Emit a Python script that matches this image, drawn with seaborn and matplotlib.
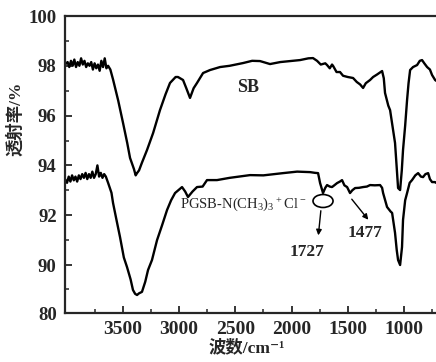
import numpy as np
import pandas as pd
import matplotlib
matplotlib.use("Agg")
import matplotlib.pyplot as plt
from matplotlib.patches import Ellipse
import seaborn as sns

# ---------------- data ----------------
sb_wn = [4013, 3990, 3975, 3960, 3945, 3930, 3915, 3900, 3885, 3870, 3855, 3840, 3825,
         3810, 3795, 3780, 3765, 3750, 3735, 3720, 3705, 3690, 3675, 3660, 3645, 3630,
         3610, 3586, 3540, 3497, 3460, 3435, 3400, 3385, 3373, 3355, 3330, 3284, 3230,
         3169, 3120, 3080, 3030, 3009, 2964, 2935, 2902, 2870, 2840, 2786, 2724, 2635,
         2550, 2431, 2350, 2280, 2191, 2100, 1924, 1850, 1809, 1773, 1740, 1700, 1684,
         1660, 1640, 1631, 1600, 1569, 1542, 1500, 1453, 1420, 1390, 1364, 1340, 1302,
         1275, 1240, 1195, 1180, 1169, 1140, 1124, 1100, 1080, 1065, 1053, 1035, 1020,
         1009, 990, 973, 960, 946, 920, 884, 860, 840, 820, 795, 770, 751, 724, 716]
sb_t = [98.05, 98.15, 97.95, 98.2, 98.0, 98.25, 97.95, 98.15, 98.0, 98.3, 98.05, 98.2, 97.95,
        98.1, 98.0, 98.15, 97.85, 98.1, 97.9, 98.05, 97.8, 98.2, 97.95, 98.3, 97.9, 98.0,
        97.85, 97.45, 96.6, 95.7, 94.9, 94.3, 93.85, 93.6, 93.69, 93.8, 94.1, 94.62, 95.3,
        96.22, 96.85, 97.31, 97.55, 97.55, 97.43, 97.1, 96.71, 97.1, 97.31, 97.71, 97.83, 97.95,
        98.0, 98.11, 98.2, 98.19, 98.07, 98.15, 98.23, 98.3, 98.31, 98.2, 98.05, 98.1, 98.03,
        97.9, 98.05, 98.0, 97.75, 97.75, 97.6, 97.55, 97.51, 97.35, 97.25, 97.11, 97.3, 97.43,
        97.55, 97.65, 97.79, 97.5, 96.91, 96.4, 96.22, 95.5, 94.9, 93.9, 93.09, 93.01, 93.8,
        94.62, 95.6, 96.63, 97.3, 97.83, 97.95, 98.03, 98.2, 98.23, 98.1, 97.95, 97.85, 97.63, 97.43, 97.4]

pg_wn = [4013, 3995, 3980, 3965, 3950, 3935, 3920, 3905, 3890, 3875, 3860, 3845, 3830,
         3815, 3800, 3785, 3770, 3755, 3740, 3725, 3710, 3695, 3680, 3665, 3650, 3630,
         3600, 3586, 3555, 3524, 3490, 3462, 3430, 3409, 3390, 3373, 3355, 3329, 3300,
         3275, 3240, 3195, 3150, 3106, 3070, 3035, 2973, 2945, 2920, 2880, 2840, 2790,
         2751, 2662, 2550, 2369, 2250, 2075, 1950, 1835, 1790, 1764, 1746, 1720, 1700,
         1684, 1660, 1640, 1620, 1595, 1570, 1551, 1530, 1506, 1480, 1460, 1435, 1400,
         1364, 1330, 1302, 1260, 1213, 1195, 1186, 1151, 1120, 1106, 1080, 1065, 1053,
         1035, 1018, 1009, 990, 973, 950, 929, 900, 875, 850, 831, 810, 786, 770, 751, 724, 716]
pg_t = [93.45, 93.3, 93.55, 93.35, 93.6, 93.4, 93.55, 93.35, 93.6, 93.45, 93.65, 93.5, 93.7,
        93.45, 93.65, 93.5, 93.75, 93.5, 93.65, 94.0, 93.55, 93.7, 93.5, 93.65, 93.55, 93.3,
        92.9, 92.49, 91.8, 91.12, 90.3, 89.58, 87.0, 84.8, 84.0, 83.75, 84.1, 84.4, 86.5,
        88.96, 90.2, 91.0, 91.6, 92.21, 92.6, 92.89, 93.13, 92.95, 92.73, 92.95, 93.13, 93.15,
        93.41, 93.41, 93.5, 93.61, 93.6, 93.69, 93.75, 93.73, 93.7, 93.69, 93.29, 92.89, 93.1,
        93.21, 93.15, 93.13, 93.2, 93.29, 93.35, 93.41, 93.2, 93.13, 92.89, 93.0, 93.09, 93.1,
        93.13, 93.15, 93.21, 93.2, 93.21, 93.1, 92.89, 92.33, 92.15, 92.09, 91.29, 90.6, 90.2,
        90.0, 90.72, 91.81, 92.6, 92.89, 93.3, 93.41, 93.6, 93.69, 93.55, 93.53, 93.65, 93.69, 93.45, 93.33, 93.33, 93.3]

series_names = ["SB", r"PGSB-N(CH$_3$)$_3$$^+$Cl$^-$"]
y_major = [80, 90, 92, 94, 96, 98, 100]
y_minor = [85, 91, 93, 95, 97, 99]
x_major = [3500, 3000, 2500, 2000, 1500, 1000]
x_minor = [3750, 3250, 2750, 2250, 1750, 1250, 750]
peak_labels = ["1727", "1477"]

df = pd.concat([
    pd.DataFrame({"wn": sb_wn, "T": sb_t, "series": series_names[0]}),
    pd.DataFrame({"wn": pg_wn, "T": pg_t, "series": series_names[1]}),
])

# ---------------- style ----------------
sns.set_style("ticks")
fams = ["Liberation Serif", "DejaVu Serif", "Noto Sans CJK SC"]
plt.rcParams["font.family"] = fams
plt.rcParams["mathtext.default"] = "regular"

fig = plt.figure(figsize=(4.36, 3.62), dpi=100)
ax = fig.add_axes([65 / 436, 49 / 362, 371 / 436, 297 / 362])

sns.lineplot(data=df, x="wn", y="T", hue="series", units="series", estimator=None,
             palette=["black", "black"], legend=False, linewidth=1.7, ax=ax, sort=False)

# piecewise y scale: 80-90 compressed
k = 4.8 / 24.9
def fwd(y):
    y = np.asarray(y, dtype=float)
    return np.where(y >= 90, y, 90 - (90 - y) * k)
def inv(t):
    t = np.asarray(t, dtype=float)
    return np.where(t >= 90, t, 90 - (90 - t) / k)
ax.set_yscale("function", functions=(fwd, inv))
ax.set_ylim(80, 100)
ax.set_xlim(4013, 716)

ax.set_yticks(y_major)
ax.set_yticks(y_minor, minor=True)
ax.set_xticks(x_major)
ax.set_xticks(x_minor, minor=True)
ax.set_yticklabels([str(v) for v in y_major])
ax.set_xticklabels([str(v) for v in x_major])
ax.tick_params(which="major", direction="in", length=5, width=1.3, pad=6)
ax.tick_params(axis="y", which="major", labelsize=13.5)
ax.tick_params(axis="x", which="major", labelsize=14)
ax.tick_params(which="minor", direction="in", length=3, width=1.1)
for lab in ax.get_xticklabels() + ax.get_yticklabels():
    lab.set_fontweight("bold")

for s in ["left", "bottom", "top"]:
    ax.spines[s].set_linewidth(1.6)
ax.spines["right"].set_visible(False)

ax.set_xlabel("波数/cm⁻¹", fontsize=12.5, fontweight="bold", family=fams)
ax.xaxis.set_label_coords(0.49, -0.09)
ax.set_ylabel("透射率/%", fontsize=12.5, fontweight="bold", family=fams)
ax.yaxis.set_label_coords(-0.11, 0.655)

# annotations
ax.text(2387, 97.13, series_names[0], fontsize=13, fontweight="bold", ha="center", va="center")
ax.text(2431, 92.45, series_names[1], fontsize=10.5, ha="center", va="center")
ax.add_patch(Ellipse((1720, 92.57), width=178, height=0.52, fill=False, lw=1.2, color="black"))
ax.annotate("", xy=(1764, 91.08), xytext=(1737, 92.29),
            arrowprops=dict(arrowstyle="-|>", lw=1.0, color="black", mutation_scale=8))
ax.text(1862, 90.52, peak_labels[0], fontsize=12.5, fontweight="bold", ha="center", va="center")
ax.annotate("", xy=(1302, 91.73), xytext=(1480, 92.73),
            arrowprops=dict(arrowstyle="-|>", lw=1.0, color="black", mutation_scale=8))
ax.text(1346, 91.30, peak_labels[1], fontsize=12.5, fontweight="bold", ha="center", va="center")

fig.savefig("out.png", dpi=100)
